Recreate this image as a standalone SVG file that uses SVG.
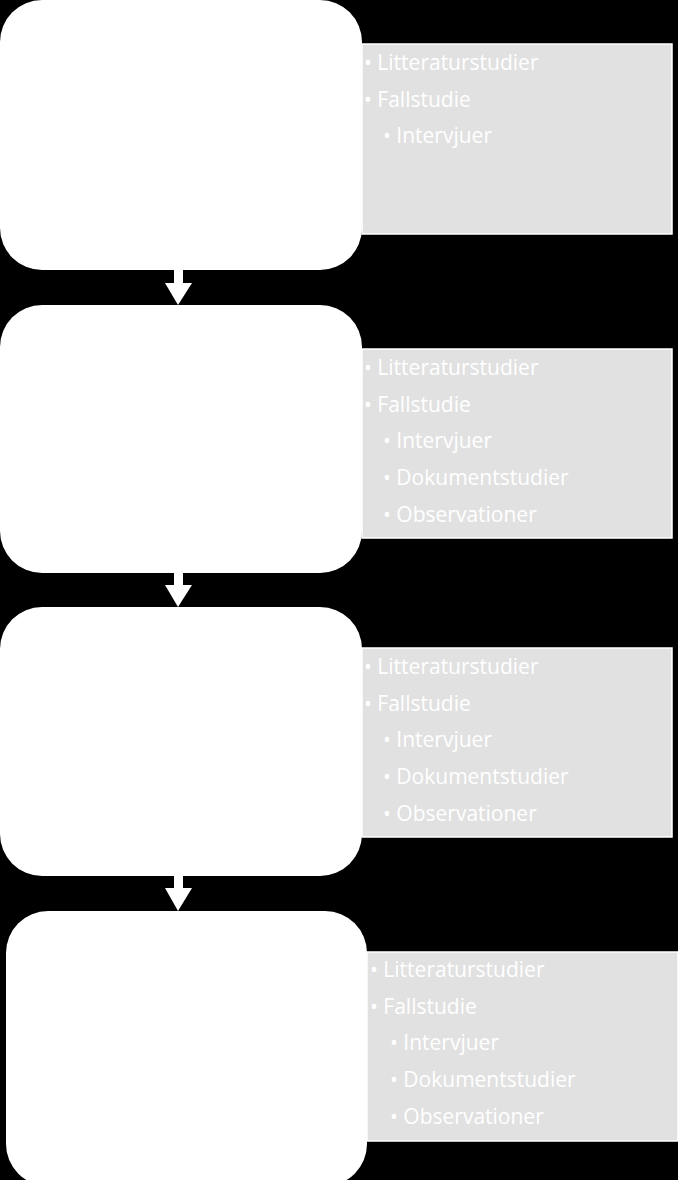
<svg xmlns="http://www.w3.org/2000/svg" width="678" height="1180" viewBox="0 0 678 1180">
<style>
.n{fill:#fff}
.g{fill:#e1e1e1;stroke:#fff;stroke-width:1.5}
text{font-family:"Open Sans","Liberation Sans",sans-serif;font-size:21px;fill:#fff}
</style>
<rect width="678" height="1180" fill="#000"/>
<g id="connectors" fill="#fff">
<rect x="174" y="268" width="9" height="16"/><polygon points="165,283 192,283 178,305"/>
<rect x="174" y="572" width="9" height="14"/><polygon points="165,585 192,585 178,607"/>
<rect x="174" y="875" width="9" height="14"/><polygon points="165,888 192,888 178,911"/>
</g>
<g id="node1"><rect class="n" x="0" y="0" width="362" height="270" rx="42"/><rect class="g" x="362" y="44" width="310" height="190"/>
<text x="364" y="70">• Litteraturstudier</text><text x="364" y="107">• Fallstudie</text><text x="383" y="143">• Intervjuer</text></g>
<g id="node2"><rect class="n" x="0" y="305" width="362" height="268" rx="42"/><rect class="g" x="362" y="349" width="310" height="189"/>
<text x="364" y="375">• Litteraturstudier</text><text x="364" y="412">• Fallstudie</text><text x="383" y="448">• Intervjuer</text><text x="383" y="485">• Dokumentstudier</text><text x="383" y="522">• Observationer</text></g>
<g id="node3"><rect class="n" x="0" y="607" width="362" height="269" rx="42"/><rect class="g" x="362" y="648" width="310" height="189"/>
<text x="364" y="674">• Litteraturstudier</text><text x="364" y="711">• Fallstudie</text><text x="383" y="747">• Intervjuer</text><text x="383" y="784">• Dokumentstudier</text><text x="383" y="821">• Observationer</text></g>
<g id="node4"><rect class="n" x="6" y="911" width="361" height="275" rx="42"/><rect class="g" x="367" y="952" width="311" height="189"/>
<text x="370" y="977">• Litteraturstudier</text><text x="370" y="1014">• Fallstudie</text><text x="390" y="1050">• Intervjuer</text><text x="390" y="1087">• Dokumentstudier</text><text x="390" y="1124">• Observationer</text></g>
</svg>
